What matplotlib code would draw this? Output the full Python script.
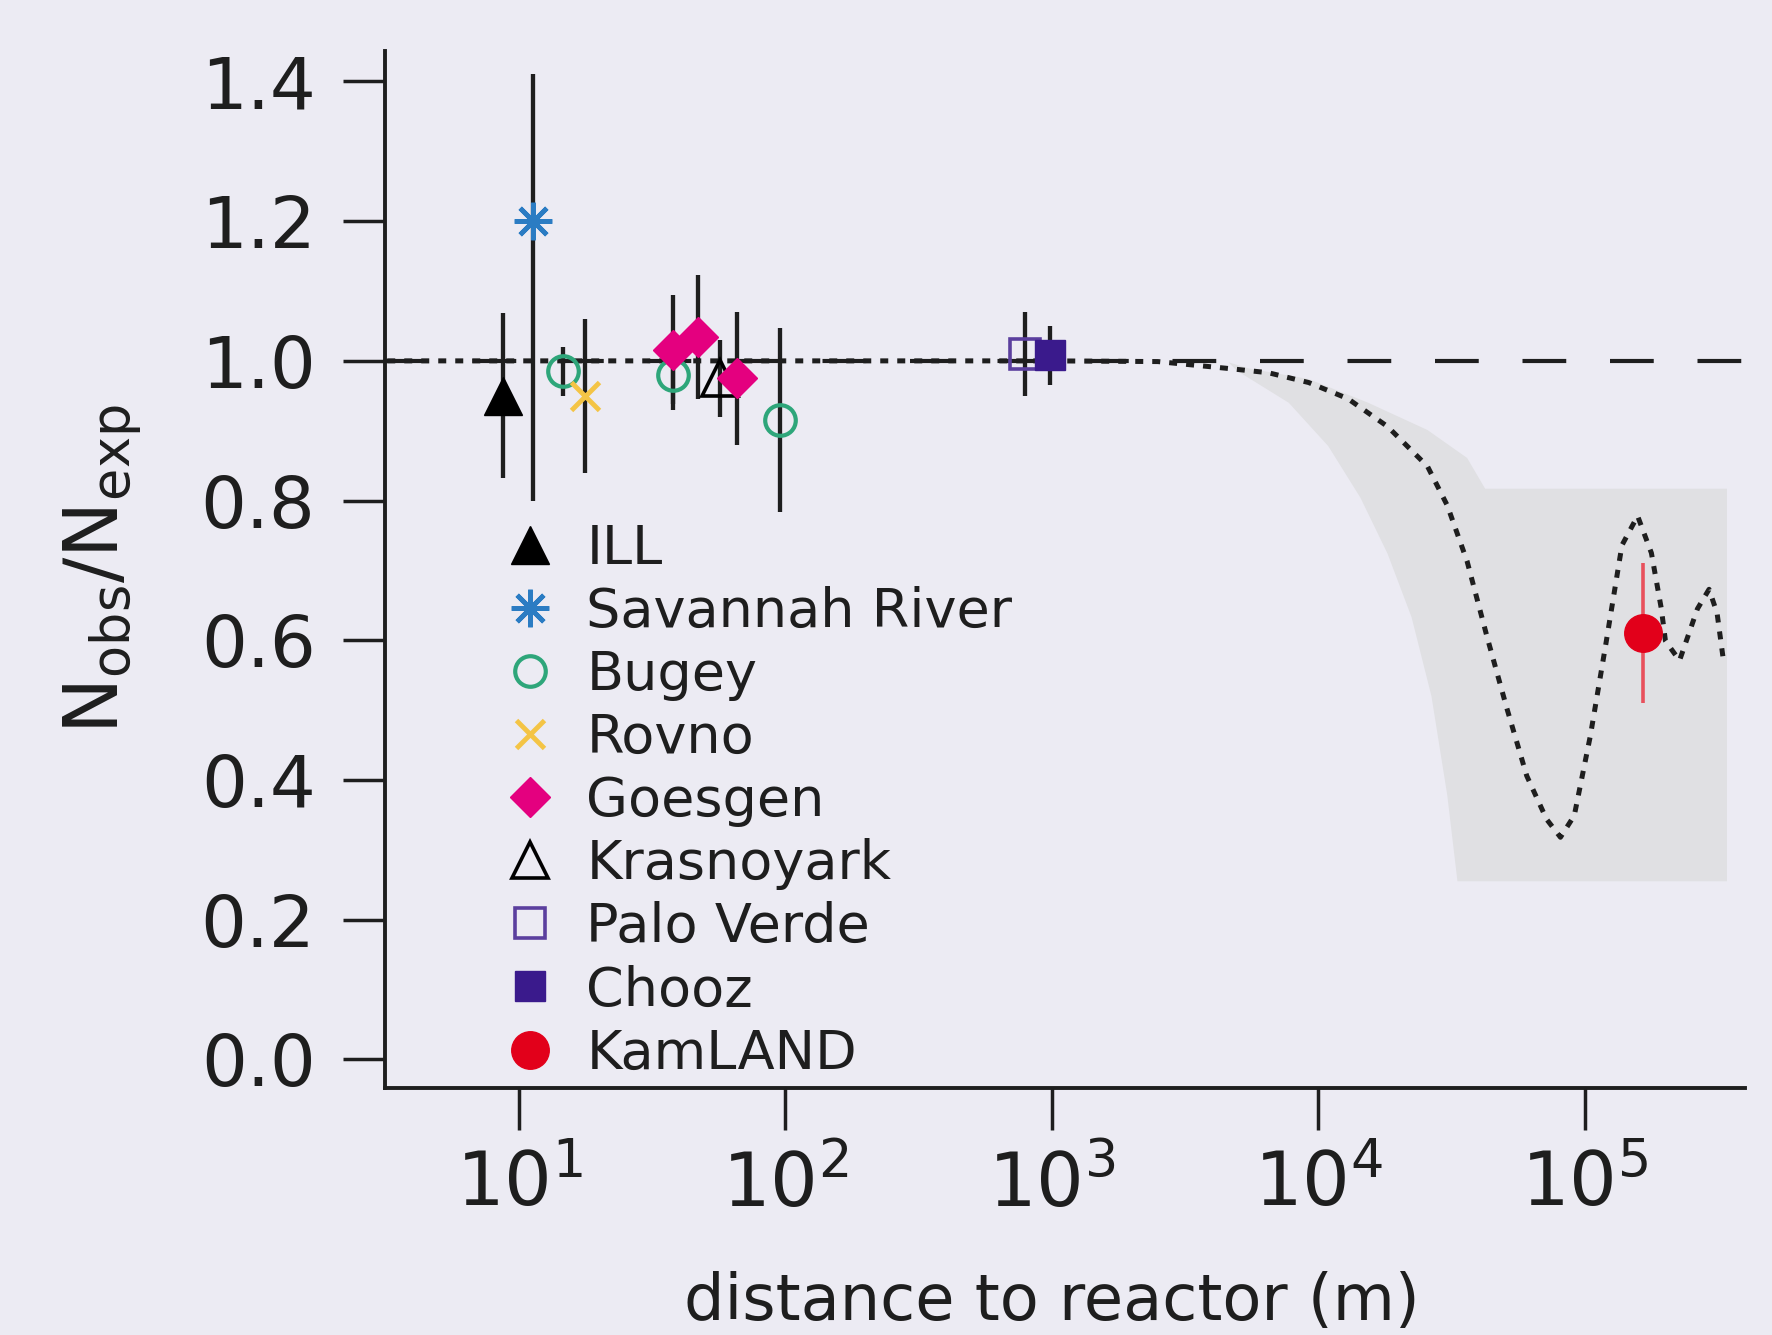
import matplotlib
matplotlib.use('Agg')
import matplotlib.pyplot as plt

plt.rcParams['font.family'] = ['DejaVu Sans']
plt.rcParams['mathtext.fontset'] = 'dejavusans'
plt.rcParams['mathtext.default'] = 'regular'

# --- data (distance in m, N_obs/N_exp, error) ---
ill_x, ill_y, ill_err = [8.7], [0.95], [0.118]
sav_x, sav_y = [11.3], [1.20]
sav_err = [[0.40], [0.21]]
bugey_x = [14.6, 37.8, 95.3]
bugey_y = [0.985, 0.980, 0.915]
bugey_err = [0.035, 0.05, 0.132]
rovno_x, rovno_y, rovno_err = [17.7], [0.95], [0.11]
goesgen_x = [37.9, 47.0, 65.6]
goesgen_y = [1.016, 1.034, 0.975]
goesgen_err = [0.078, 0.089, 0.095]
kras_x, kras_y, kras_err = [56.8], [0.975], [0.055]
pv_x, pv_y, pv_err = [793], [1.01], [0.06]
chooz_x, chooz_y, chooz_err = [983], [1.008], [0.042]
kam_x, kam_y, kam_err = [1.66e5], [0.61], [0.10]

# oscillation expectation (dotted curve)
curve_x = [3.2, 100, 1000, 2.5e3, 4.63e3, 6.5e3, 9.2e3, 1.29e4, 1.82e4, 2.57e4,
           3.05e4, 3.62e4, 4.30e4, 5.10e4, 6.06e4, 7.19e4, 8.11e4, 9.14e4,
           1.05e5, 1.20e5, 1.38e5, 1.58e5, 1.78e5, 1.94e5, 2.01e5, 2.27e5,
           2.65e5, 2.93e5, 3.14e5, 3.31e5]
curve_y = [1.0, 1.0, 1.0, 0.999, 0.989, 0.983, 0.969, 0.946, 0.906, 0.849,
           0.793, 0.713, 0.605, 0.503, 0.406, 0.344, 0.318, 0.349,
           0.463, 0.594, 0.736, 0.778, 0.725, 0.645, 0.599, 0.571,
           0.645, 0.673, 0.639, 0.574]

# grey band edges
band_top_x = [4.6e3, 5.5e3, 9.2e3, 1.54e4, 2.57e4, 3.62e4, 4.23e4, 3.42e5]
band_top_y = [0.998, 0.989, 0.974, 0.940, 0.901, 0.861, 0.817, 0.817]
band_bot_x = [4.6e3, 4.95e3, 7.75e3, 1.09e4, 1.44e4, 1.82e4, 2.24e4, 2.66e4,
              3.05e4, 3.33e4, 3.42e5]
band_bot_y = [0.998, 0.986, 0.940, 0.878, 0.804, 0.724, 0.633, 0.520,
              0.378, 0.255, 0.255]

no_oscillation = 1.0
yticks = [0.0, 0.2, 0.4, 0.6, 0.8, 1.0, 1.2, 1.4]
xticks = [1e1, 1e2, 1e3, 1e4, 1e5]
xticklabels = [r'$10^{1}$', r'$10^{2}$', r'$10^{3}$', r'$10^{4}$', r'$10^{5}$']

bg = '#ECEBF3'
ink = '#1E1E1E'

fig = plt.figure(figsize=(17.72, 13.35), dpi=100)
fig.patch.set_facecolor(bg)
ax = fig.add_axes([0.2173, 0.185, 0.7675, 0.777])
ax.set_facecolor(bg)

ax.fill(band_top_x + band_bot_x[::-1], band_top_y + band_bot_y[::-1],
        color='#E0E0E3', lw=0, zorder=1)
ax.axhline(no_oscillation, color=ink, lw=3, dashes=(10.5, 10.5), zorder=2)
ax.plot(curve_x, curve_y, color=ink, lw=3.6, dashes=(1.6, 1.8), zorder=2)

# error bars (no caps)
eb = dict(fmt='none', ecolor=ink, elinewidth=3.1, capsize=0, zorder=3)
ax.errorbar(ill_x, ill_y, yerr=ill_err, **eb)
ax.errorbar(sav_x, sav_y, yerr=sav_err, **eb)
ax.errorbar(bugey_x, bugey_y, yerr=bugey_err, **eb)
ax.errorbar(rovno_x, rovno_y, yerr=rovno_err, **eb)
ax.errorbar(goesgen_x, goesgen_y, yerr=goesgen_err, **eb)
ax.errorbar(kras_x, kras_y, yerr=kras_err, **eb)
ax.errorbar(pv_x, pv_y, yerr=pv_err, **eb)
ax.errorbar(chooz_x, chooz_y, yerr=chooz_err, **eb)
ax.errorbar(kam_x, kam_y, yerr=kam_err, fmt='none', ecolor='#E8505C',
            elinewidth=2.6, capsize=0, zorder=3)

# markers
ax.plot(ill_x, ill_y, ls='none', marker='^', ms=28, color='black',
        label='ILL', zorder=4)
ax.plot(sav_x, sav_y, ls='none', marker=(8, 2, 0), ms=27, mew=3.4,
        color='#2B7CC3', label='Savannah River', zorder=4)
ax.plot(bugey_x, bugey_y, ls='none', marker='o', ms=22, mew=3,
        mfc='none', mec='#2EA67A', label='Bugey', zorder=4)
ax.plot(rovno_x, rovno_y, ls='none', marker='x', ms=20, mew=3.5,
        color='#F4C445', label='Rovno', zorder=4)
ax.plot(goesgen_x, goesgen_y, ls='none', marker='D', ms=20,
        color='#E4007F', label='Goesgen', zorder=4)
ax.plot(kras_x, kras_y, ls='none', marker='^', ms=26, mew=2.6,
        mfc='none', mec='black', label='Krasnoyark', zorder=3.5)
ax.plot(pv_x, pv_y, ls='none', marker='s', ms=21, mew=2.6,
        mfc='none', mec='#5B3F9E', label='Palo Verde', zorder=4)
ax.plot(chooz_x, chooz_y, ls='none', marker='s', ms=21,
        color='#3A1A8C', label='Chooz', zorder=4)
ax.plot(kam_x, kam_y, ls='none', marker='o', ms=27,
        color='#E2001A', label='KamLAND', zorder=4)

ax.set_xscale('log')
ax.set_xlim(3.14, 4.0e5)
ax.set_ylim(-0.041, 1.444)
ax.set_xticks(xticks)
ax.set_xticklabels(xticklabels)
ax.xaxis.set_minor_locator(matplotlib.ticker.NullLocator())
ax.set_yticks(yticks)
ax.set_yticklabels([f'{t:.1f}' for t in yticks])

for side in ['top', 'right']:
    ax.spines[side].set_visible(False)
for side in ['left', 'bottom']:
    ax.spines[side].set_linewidth(2.8)
    ax.spines[side].set_color(ink)

ax.tick_params(axis='y', length=30, width=2.5, pad=20, labelsize=52,
               colors=ink, direction='out')
ax.tick_params(axis='x', length=30, width=2.5, pad=14, labelsize=54,
               colors=ink, direction='out')

ax.set_ylabel(r'N$_{obs}$/N$_{exp}$', fontsize=54, color=ink)
ax.yaxis.set_label_coords(-0.177, 0.5)
ax.set_xlabel('distance to reactor (m)', fontsize=46, color=ink)
ax.xaxis.set_label_coords(0.49, -0.176)

ax.legend(loc='upper left', bbox_to_anchor=(0.087, 0.545), frameon=False,
          fontsize=39, numpoints=1, handlelength=1.0, handletextpad=0.53,
          labelspacing=0.205, borderpad=0, borderaxespad=0, labelcolor=ink)

fig.savefig('out.png', dpi=100, facecolor=bg)
